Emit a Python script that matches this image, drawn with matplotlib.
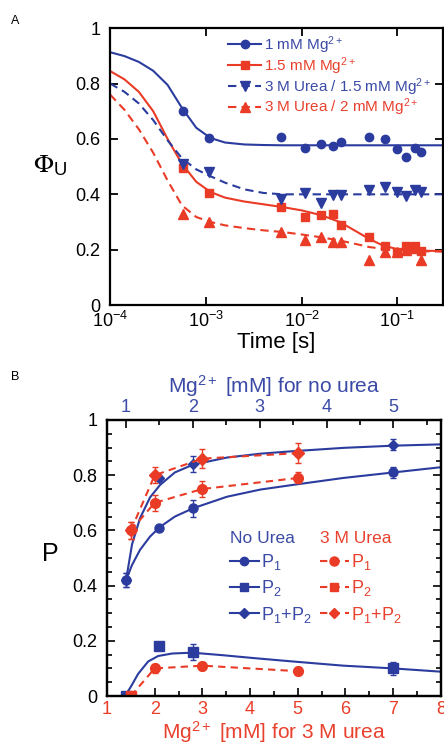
import matplotlib
matplotlib.use('Agg')
import matplotlib.pyplot as plt
from matplotlib.lines import Line2D
from matplotlib.ticker import MultipleLocator, NullLocator, FixedLocator
import numpy as np

plt.rcParams['font.family'] = ['Liberation Sans', 'DejaVu Sans']
plt.rcParams['mathtext.fontset'] = 'custom'
plt.rcParams['mathtext.rm'] = 'Liberation Sans'
plt.rcParams['mathtext.it'] = 'Liberation Sans:italic'
plt.rcParams['mathtext.sf'] = 'Liberation Sans'

BLUE = '#2b3c9e'
RED = '#ea3b26'
BLUE_TXT = '#3b4aa6'
RED_TXT = '#e8412e'

# ---- panel A: measured points (time in s) ----
times = [5.8e-4, 1.08e-3, 6.1e-3, 1.09e-2, 1.6e-2, 2.1e-2, 2.6e-2,
         5.0e-2, 7.5e-2, 0.10, 0.124, 0.151, 0.178]
phi_1mM = [0.70, 0.605, 0.607, 0.567, 0.58, 0.574, 0.59,
           0.607, 0.60, 0.563, 0.535, 0.567, 0.553]
phi_15mM = [0.494, 0.404, 0.354, 0.318, 0.325, 0.328, 0.29,
            0.245, 0.213, 0.19, 0.213, 0.213, 0.195]
phi_urea_15mM = [0.51, 0.48, 0.383, 0.404, 0.368, 0.397, 0.397,
                 0.415, 0.426, 0.408, 0.394, 0.415, 0.408]
phi_urea_2mM = [0.33, 0.30, 0.264, 0.235, 0.245, 0.228, 0.228,
                0.162, 0.19, 0.19, 0.20, 0.205, 0.162]

# ---- panel A: fitted curves (log10 time) ----
fit_logt = [-4.0, -3.85, -3.7, -3.55, -3.4, -3.25, -3.1, -2.95, -2.8, -2.6, -2.4,
            -2.2, -2.0, -1.8, -1.6, -1.45, -1.3, -1.15, -1.0, -0.85, -0.5]
fit_1mM = [0.913, 0.899, 0.878, 0.846, 0.795, 0.712, 0.64, 0.603, 0.587, 0.58, 0.578,
           0.577, 0.577, 0.577, 0.577, 0.577, 0.577, 0.577, 0.577, 0.577, 0.577]
fit_15mM = [0.845, 0.815, 0.77, 0.70, 0.60, 0.51, 0.445, 0.408, 0.388, 0.374, 0.364,
            0.354, 0.342, 0.325, 0.30, 0.27, 0.24, 0.215, 0.202, 0.197, 0.195]
fit_urea_15mM = [0.80, 0.77, 0.728, 0.668, 0.595, 0.53, 0.49, 0.465, 0.442, 0.418, 0.405,
                 0.40, 0.40, 0.40, 0.40, 0.40, 0.40, 0.40, 0.40, 0.40, 0.40]
fit_urea_2mM = [0.76, 0.705, 0.635, 0.55, 0.45, 0.36, 0.318, 0.30, 0.288, 0.278, 0.27,
                0.264, 0.255, 0.245, 0.233, 0.222, 0.21, 0.203, 0.198, 0.195, 0.193]

# ---- panel B: no urea (top axis, Mg2+ mM) ----
mg_nourea = [1.0, 1.5, 2.0, 5.0]
p1_nourea = [0.42, 0.61, 0.68, 0.81]
p1_nourea_err = [0.025, 0.01, 0.03, 0.02]
p2_nourea = [0.0, 0.18, 0.16, 0.10]
p2_nourea_err = [0.0, 0.0, 0.03, 0.025]
p12_nourea = [0.42, 0.79, 0.84, 0.91]
p12_nourea_err = [0.025, 0.01, 0.03, 0.02]

fit_mg_top = [1.0, 1.09, 1.21, 1.36, 1.51, 1.73, 2.0, 2.51, 3.01, 3.5, 4.25, 5.0, 5.75]
fit_p1_top = [0.42, 0.475, 0.53, 0.578, 0.613, 0.65, 0.68, 0.722, 0.748, 0.765, 0.79, 0.81, 0.83]
fit_p12_top = [0.42, 0.55, 0.645, 0.72, 0.765, 0.81, 0.838, 0.864, 0.878, 0.887, 0.899, 0.907, 0.912]
fit_mg2_top = [0.985, 1.075, 1.18, 1.33, 1.48, 1.69, 1.99, 2.44, 2.93, 3.5, 4.25, 5.0, 5.72]
fit_p2_top = [0.0, 0.035, 0.08, 0.125, 0.145, 0.154, 0.157, 0.148, 0.137, 0.125, 0.11, 0.10, 0.088]

# ---- panel B: 3 M urea (bottom axis, Mg2+ mM) ----
mg_urea = [1.5, 2.0, 3.0, 5.0]
p1_urea = [0.60, 0.70, 0.75, 0.79]
p1_urea_err = [0.03, 0.03, 0.03, 0.02]
p2_urea = [0.0, 0.10, 0.11, 0.09]
p2_urea_err = [0.0, 0.015, 0.015, 0.015]
p12_urea = [0.60, 0.80, 0.86, 0.88]
p12_urea_err = [0.03, 0.03, 0.035, 0.035]

fig = plt.figure(figsize=(4.44, 7.46), dpi=100)

# ================= panel A =================
ax1 = fig.add_axes([0.248, 0.591, 0.750, 0.3713])
fit_t = 10.0 ** np.array(fit_logt)
dash = (0, (4, 2.5))
ax1.plot(fit_t, fit_1mM, color=BLUE, lw=1.5)
ax1.plot(fit_t, fit_15mM, color=RED, lw=1.5)
ax1.plot(fit_t, fit_urea_15mM, color=BLUE, lw=1.5, ls=dash)
ax1.plot(fit_t, fit_urea_2mM, color=RED, lw=1.5, ls=dash)
ax1.plot(times, phi_1mM, 'o', color=BLUE, ms=6)
ax1.plot(times, phi_15mM, 's', color=RED, ms=6)
ax1.plot(times, phi_urea_15mM, 'v', color=BLUE, ms=6.5)
ax1.plot(times, phi_urea_2mM, '^', color=RED, ms=6.5)
ax1.set_xscale('log')
ax1.set_xlim(1e-4, 0.3)
ax1.set_ylim(0, 1)
ax1.xaxis.set_major_locator(FixedLocator([1e-4, 1e-3, 1e-2, 1e-1]))
ax1.xaxis.set_minor_locator(NullLocator())
ax1.set_yticks([0, 0.2, 0.4, 0.6, 0.8, 1.0])
ax1.set_yticklabels(['0', '0.2', '0.4', '0.6', '0.8', '1'])
ax1.tick_params(which='both', direction='in', top=True, right=True,
                length=6, width=1.3, labelsize=13)
ax1.tick_params(axis='x', pad=4)
ax1.tick_params(axis='y', pad=7)
for s in ax1.spines.values():
    s.set_linewidth(1.6)
ax1.set_xlabel('Time [s]', fontsize=16, labelpad=1)
ax1.set_ylabel(r'$\Phi_{\mathregular{U}}$', fontsize=19, rotation=0, math_fontfamily='stix')
ax1.yaxis.set_label_coords(-0.18, 0.46)

hA = [Line2D([], [], color=BLUE, marker='o', ms=6, lw=1.5),
      Line2D([], [], color=RED, marker='s', ms=6, lw=1.5),
      Line2D([], [], color=BLUE, marker='v', ms=6.5, lw=1.5, ls=dash),
      Line2D([], [], color=RED, marker='^', ms=6.5, lw=1.5, ls=dash)]
labA = ['1 mM Mg$^{2+}$', '1.5 mM Mg$^{2+}$',
        '3 M Urea / 1.5 mM Mg$^{2+}$', '3 M Urea / 2 mM Mg$^{2+}$']
legA = ax1.legend(hA, labA, loc='upper left', bbox_to_anchor=(0.335, 1.0),
                  frameon=False, fontsize=11, handlelength=2.2, handletextpad=0.15,
                  labelspacing=-0.05, borderpad=0.2, borderaxespad=0.2)
for t, c in zip(legA.get_texts(), [BLUE_TXT, RED_TXT, BLUE_TXT, RED_TXT]):
    t.set_color(c)

fig.text(0.025, 0.968, 'A', fontsize=9)

# ================= panel B =================
ax2 = fig.add_axes([0.241, 0.067, 0.752, 0.370])
ax2t = ax2.twiny()
ax2t.set_zorder(1)
ax2.set_zorder(2)
ax2.patch.set_visible(False)

# no urea on top axis
ax2t.plot(fit_mg_top, fit_p1_top, color=BLUE, lw=1.5)
ax2t.plot(fit_mg_top, fit_p12_top, color=BLUE, lw=1.5)
ax2t.plot(fit_mg2_top, fit_p2_top, color=BLUE, lw=1.5)
eb = dict(capsize=2.5, elinewidth=1, capthick=1, ls='none')
ax2t.errorbar(mg_nourea, p1_nourea, yerr=p1_nourea_err, fmt='o', color=BLUE, ms=6.5, **eb)
ax2t.errorbar(mg_nourea, p2_nourea, yerr=p2_nourea_err, fmt='s', color=BLUE, ms=6.5, **eb)
ax2t.errorbar(mg_nourea, p12_nourea, yerr=p12_nourea_err, fmt='D', color=BLUE, ms=5.5, **eb)

# 3 M urea on bottom axis
dashB = (0, (3.5, 2.5))
ax2.errorbar(mg_urea, p1_urea, yerr=p1_urea_err, fmt='o', color=RED, ms=7,
             lw=1.5, capsize=2.5, elinewidth=1, capthick=1, ls=dashB)
ax2.errorbar(mg_urea, p2_urea, yerr=p2_urea_err, fmt='o', color=RED, ms=7,
             lw=1.5, capsize=2.5, elinewidth=1, capthick=1, ls=dashB)
ax2.plot(mg_urea[:1], p2_urea[:1], 's', color=RED, ms=6.5)
ax2.errorbar(mg_urea, p12_urea, yerr=p12_urea_err, fmt='D', color=RED, ms=6,
             lw=1.5, capsize=2.5, elinewidth=1, capthick=1, ls=dashB)

ax2.set_xlim(1, 8)
ax2.set_ylim(0, 1)
ax2t.set_xlim(0.715, 5.71)
ax2.xaxis.set_major_locator(MultipleLocator(1))
ax2.xaxis.set_minor_locator(MultipleLocator(0.5))
ax2.yaxis.set_minor_locator(MultipleLocator(0.05))
ax2.set_yticks([0, 0.2, 0.4, 0.6, 0.8, 1.0])
ax2.set_yticklabels(['0', '0.2', '0.4', '0.6', '0.8', '1'])
ax2t.xaxis.set_major_locator(FixedLocator([1, 2, 3, 4, 5]))
ax2t.xaxis.set_minor_locator(MultipleLocator(0.5))
ax2.tick_params(which='both', direction='in', top=False, right=True, labelsize=13, width=1.2)
ax2.tick_params(axis='x', labelcolor=RED)
ax2.tick_params(axis='y', pad=7)
ax2.tick_params(which='major', length=6)
ax2.tick_params(which='minor', length=3.5)
ax2t.tick_params(which='both', direction='in', labelsize=13, labelcolor=BLUE_TXT, width=1.2, pad=3)
ax2t.tick_params(which='major', length=6)
ax2t.tick_params(which='minor', length=3.5)
for a in (ax2, ax2t):
    for s in a.spines.values():
        s.set_linewidth(1.6)
ax2.set_xlabel('Mg$^{2+}$ [mM] for 3 M urea', fontsize=15, color=RED_TXT, labelpad=1)
ax2t.set_xlabel('Mg$^{2+}$ [mM] for no urea', fontsize=15, color=BLUE_TXT, labelpad=4)
ax2.set_ylabel('P', fontsize=18, rotation=0)
ax2.yaxis.set_label_coords(-0.17, 0.47)

hB1 = [Line2D([], [], color=BLUE, marker='o', ms=6, lw=1.5),
       Line2D([], [], color=BLUE, marker='s', ms=6, lw=1.5),
       Line2D([], [], color=BLUE, marker='D', ms=5, lw=1.5)]
hB2 = [Line2D([], [], color=RED, marker='o', ms=6.5, lw=1.5, ls=dashB),
       Line2D([], [], color=RED, marker='s', ms=6, lw=1.5, ls=dashB),
       Line2D([], [], color=RED, marker='D', ms=5, lw=1.5, ls=dashB)]
labB = ['P$_1$', 'P$_2$', 'P$_1$+P$_2$']
legkw = dict(loc='upper left', frameon=False, fontsize=13, title_fontsize=12.5,
             handlelength=1.6, handletextpad=0.1, labelspacing=0.35,
             alignment='left', borderpad=0.2)
leg1 = ax2.legend(hB1, labB, title='No Urea', bbox_to_anchor=(0.33, 0.645), **legkw)
leg1.get_title().set_color(BLUE_TXT)
for t in leg1.get_texts():
    t.set_color(BLUE_TXT)
ax2.add_artist(leg1)
leg2 = ax2.legend(hB2, labB, title='3 M Urea', bbox_to_anchor=(0.6, 0.645), **legkw)
leg2.get_title().set_color(RED_TXT)
for t in leg2.get_texts():
    t.set_color(RED_TXT)

fig.text(0.025, 0.49, 'B', fontsize=9)

fig.savefig('out.png', dpi=100)
